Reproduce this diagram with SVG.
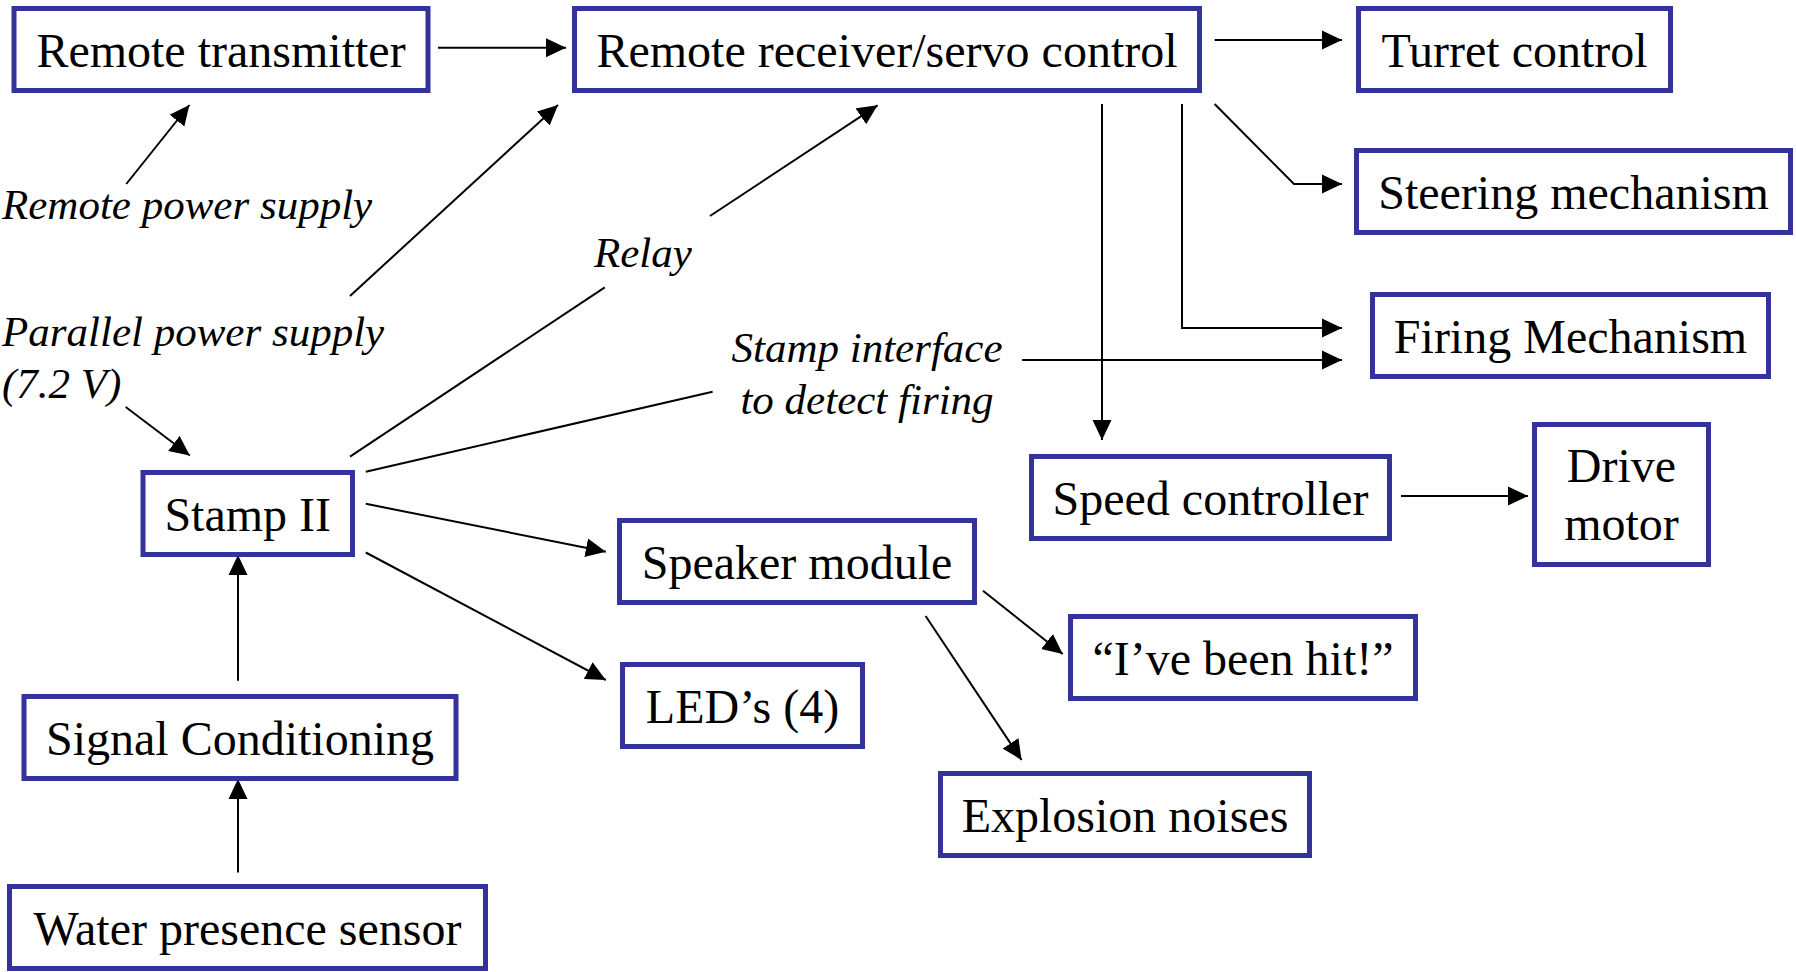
<svg xmlns="http://www.w3.org/2000/svg" width="1796" height="972" viewBox="0 0 1796 972">
<defs>
<marker id="ah" markerUnits="userSpaceOnUse" markerWidth="20" markerHeight="20" refX="20" refY="10" orient="auto" viewBox="0 0 20 20">
<path d="M0,0.5 L20,10 L0,19.5 z" fill="#000"/>
</marker>
<style>
.box{fill:#fff;stroke:#333399;stroke-width:5}
.t{font-family:"Liberation Serif","Times New Roman",serif;font-size:48px;fill:#000;text-anchor:middle}
.it{font-family:"Liberation Serif","Times New Roman",serif;font-size:43px;font-style:italic;fill:#000}
.c{fill:none;stroke:#000;stroke-width:2}
.a{marker-end:url(#ah)}
</style>
</defs>
<rect width="1796" height="972" fill="#fff"/>

<g id="connectors">
<line class="c a" x1="438" y1="47.7" x2="566" y2="47.7"/>
<line class="c a" x1="1214.6" y1="40" x2="1342" y2="40"/>
<polyline class="c a" points="1214.6,104 1294,184 1342,184"/>
<polyline class="c a" points="1182,104 1182,328 1342,328"/>
<line class="c a" x1="1022" y1="360" x2="1342" y2="360"/>
<line class="c a" x1="1102" y1="104" x2="1102" y2="440"/>
<line class="c a" x1="1401" y1="496" x2="1528" y2="496"/>
<line class="c a" x1="126.3" y1="184" x2="189.4" y2="105"/>
<line class="c a" x1="350" y1="296" x2="558" y2="105"/>
<line class="c" x1="350" y1="456.6" x2="604.8" y2="287.3"/>
<line class="c a" x1="710" y1="216" x2="877.6" y2="105.3"/>
<line class="c" x1="365.8" y1="471.7" x2="712.6" y2="391.7"/>
<line class="c a" x1="125.7" y1="407" x2="189.8" y2="455.5"/>
<line class="c a" x1="365.8" y1="503.8" x2="605.8" y2="551.7"/>
<line class="c a" x1="365.8" y1="552.5" x2="605.8" y2="680"/>
<line class="c a" x1="238" y1="680.8" x2="238" y2="555"/>
<line class="c a" x1="238" y1="872.5" x2="238" y2="779"/>
<line class="c a" x1="983" y1="590.7" x2="1062.7" y2="654"/>
<line class="c a" x1="925.6" y1="616" x2="1021.6" y2="760"/>
</g>

<g id="labels">
<text class="it" x="2" y="218.5">Remote power supply</text>
<text class="it" x="2" y="345.5">Parallel power supply</text>
<text class="it" x="2" y="397.5">(7.2 V)</text>
<text class="it" x="594" y="267">Relay</text>
<text class="it" x="867" y="362" text-anchor="middle">Stamp interface</text>
<text class="it" x="867" y="414" text-anchor="middle">to detect firing</text>
</g>

<g id="remote-transmitter"><rect class="box" x="14" y="8.5" width="414" height="82"/><text class="t" x="221" y="66.7">Remote transmitter</text></g>
<g id="remote-receiver"><rect class="box" x="574.5" y="8.5" width="625" height="82"/><text class="t" x="887" y="66.7">Remote receiver/servo control</text></g>
<g id="turret-control"><rect class="box" x="1358.5" y="8.5" width="312" height="82"/><text class="t" x="1514.5" y="66.7">Turret control</text></g>
<g id="steering-mechanism"><rect class="box" x="1356.5" y="150.5" width="434" height="82"/><text class="t" x="1573.5" y="208.5">Steering mechanism</text></g>
<g id="firing-mechanism"><rect class="box" x="1372.5" y="294.5" width="396" height="82"/><text class="t" x="1570.5" y="352.5">Firing Mechanism</text></g>
<g id="speed-controller"><rect class="box" x="1031.5" y="456.5" width="358" height="82"/><text class="t" x="1210.5" y="514.5">Speed controller</text></g>
<g id="drive-motor"><rect class="box" x="1534.5" y="424.5" width="174" height="140"/><text class="t" x="1621.5" y="481.7">Drive</text><text class="t" x="1621.5" y="540">motor</text></g>
<g id="stamp-ii"><rect class="box" x="143" y="472.5" width="209.5" height="82"/><text class="t" x="247.7" y="530.5">Stamp II</text></g>
<g id="signal-conditioning"><rect class="box" x="24" y="696.5" width="432" height="82"/><text class="t" x="240" y="754.5">Signal Conditioning</text></g>
<g id="water-presence-sensor"><rect class="box" x="9.5" y="886.5" width="476" height="82"/><text class="t" x="247.5" y="944.5">Water presence sensor</text></g>
<g id="speaker-module"><rect class="box" x="619.5" y="520.5" width="355" height="82"/><text class="t" x="797" y="578.5">Speaker module</text></g>
<g id="leds"><rect class="box" x="622.5" y="664.5" width="240" height="82"/><text class="t" x="742.5" y="722.5">LED’s (4)</text></g>
<g id="been-hit"><rect class="box" x="1070.5" y="616.5" width="345" height="82"/><text class="t" x="1243" y="674.5">“I’ve been hit!”</text></g>
<g id="explosion-noises"><rect class="box" x="940.5" y="773.5" width="369" height="82"/><text class="t" x="1125" y="831.5">Explosion noises</text></g>
</svg>
